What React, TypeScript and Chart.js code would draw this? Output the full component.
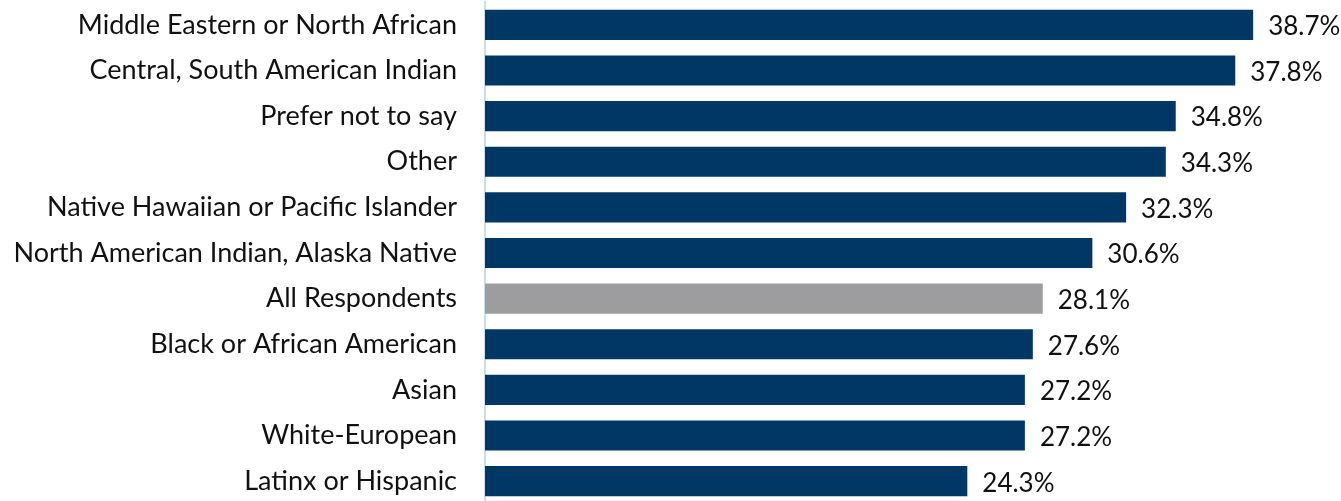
import React, { useEffect, useRef } from "react";
import { Chart, registerables } from "chart.js";

Chart.register(...registerables);

const categories = [
  "Middle Eastern or North African",
  "Central, South American Indian",
  "Prefer not to say",
  "Other",
  "Native Hawaiian or Pacific Islander",
  "North American Indian, Alaska Native",
  "All Respondents",
  "Black or African American",
  "Asian",
  "White-European",
  "Latinx or Hispanic",
];
const values = [38.7, 37.8, 34.8, 34.3, 32.3, 30.6, 28.1, 27.6, 27.2, 27.2, 24.3];
const highlight = "All Respondents";

const NAVY = "#003764";
const GRAY = "#9D9D9F";
const FONT_FAMILY = "Lato, 'Open Sans', sans-serif";
const FONT_SIZE = 27;
const VALUE_FONT_SIZE = 26;
const AXIS_X = 485;

const valueLabels = {
  id: "valueLabels",
  afterDatasetsDraw(chart: any) {
    const ctx = chart.ctx;
    const meta = chart.getDatasetMeta(0);
    ctx.save();
    ctx.font = `${VALUE_FONT_SIZE}px ${FONT_FAMILY}`;
    ctx.fillStyle = "#111111";
    ctx.textAlign = "left";
    ctx.textBaseline = "middle";
    meta.data.forEach((bar: any, i: number) => {
      const v = chart.data.datasets[0].data[i];
      ctx.fillText(v.toFixed(1) + "%", bar.x + 15, bar.y + 2);
    });
    ctx.restore();
  },
};

export default function App() {
  const ref = useRef<HTMLCanvasElement>(null);
  useEffect(() => {
    document.body.style.margin = "0";
    document.body.style.overflow = "hidden";
    const chart = new Chart(ref.current!, {
      type: "bar",
      data: {
        labels: categories,
        datasets: [
          {
            data: values,
            backgroundColor: categories.map((c) => (c === highlight ? GRAY : NAVY)),
            barPercentage: 0.66,
            categoryPercentage: 1,
          },
        ],
      },
      options: {
        indexAxis: "y",
        animation: false,
        responsive: false,
        layout: { autoPadding: false, padding: { top: 2, bottom: 1, left: 0, right: 2.5 } },
        plugins: { legend: { display: false }, tooltip: { enabled: false } },
        scales: {
          x: { display: false, min: 0, max: 43 },
          y: {
            afterFit(scale: any) {
              scale.width = AXIS_X;
              scale.paddingTop = 0;
              scale.paddingBottom = 0;
            },
            grid: { display: false, drawTicks: false },
            border: { display: true, color: "#C9DDF0", width: 2 },
            ticks: {
              color: "#111111",
              padding: 28,
              font: { family: FONT_FAMILY, size: FONT_SIZE },
            },
          },
        },
      },
      plugins: [valueLabels],
    });
    return () => chart.destroy();
  }, []);
  return (
    <div style={{ width: 1341, height: 501, overflow: "hidden" }}>
      <canvas ref={ref} width={1341} height={505} style={{ display: "block" }} />
    </div>
  );
}
